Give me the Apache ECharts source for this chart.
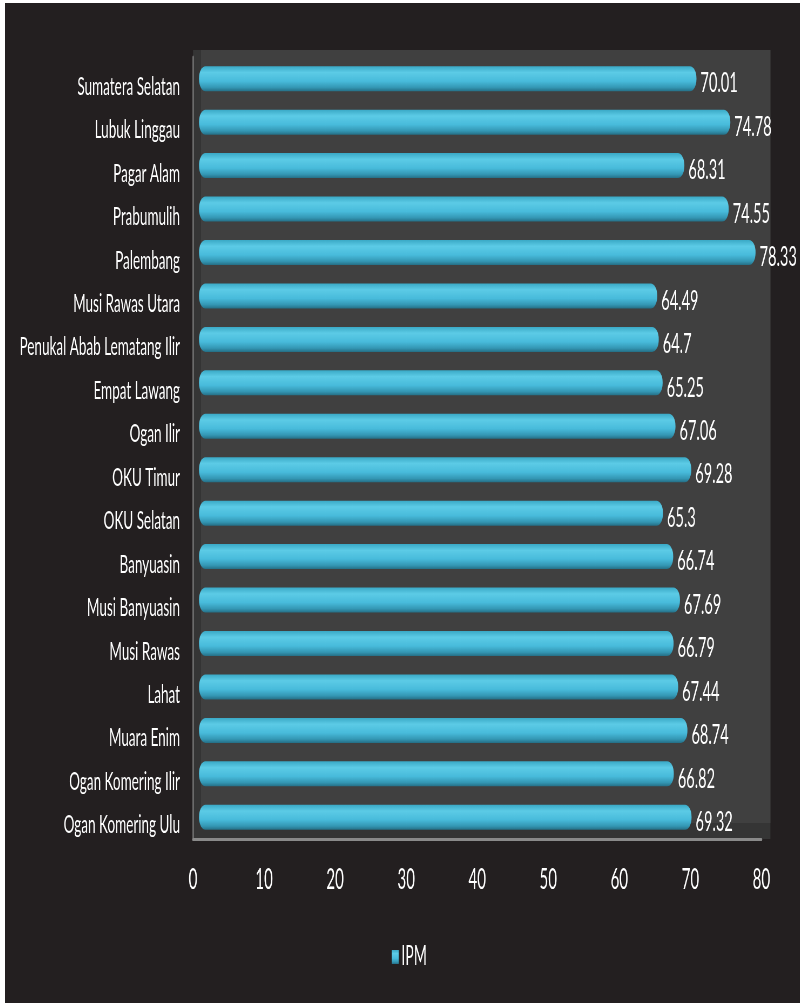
<!DOCTYPE html>
<html>
<head>
<meta charset="utf-8">
<script src="https://cdn.jsdelivr.net/npm/echarts@6/dist/echarts.min.js"></script>
<style>
html,body{margin:0;padding:0;background:#ffffff;overflow:hidden;}
#wrap{position:absolute;left:5px;top:3px;width:795px;height:1000px;overflow:hidden;background:#231f20;}
#c{position:absolute;left:0;top:0;width:1473px;height:1000px;transform:scaleX(0.54);transform-origin:0 0;}
</style>
</head>
<body>
<div id="wrap"><div id="c"></div></div>
<script>
var categories = ["Sumatera Selatan","Lubuk Linggau","Pagar Alam","Prabumulih","Palembang","Musi Rawas Utara","Penukal Abab Lematang Ilir","Empat Lawang","Ogan Ilir","OKU Timur","OKU Selatan","Banyuasin","Musi Banyuasin","Musi Rawas","Lahat","Muara Enim","Ogan Komering Ilir","Ogan Komering Ulu"];
var ipmValues = [70.01,74.78,68.31,74.55,78.33,64.49,64.7,65.25,67.06,69.28,65.3,66.74,67.69,66.79,67.44,68.74,66.82,69.32];
var xTicks = [0,10,20,30,40,50,60,70,80];
var seriesName = "IPM";

var S = 0.54; // horizontal squeeze applied by CSS
function hx(v){return v/S;}
var FONT = "Lato,'Open Sans',sans-serif";
var chart = echarts.init(document.getElementById('c'));
var barGrad = new echarts.graphic.LinearGradient(0,0,0,1,[
  {offset:0,color:'#3aa9c6'},
  {offset:0.25,color:'#5ccbe6'},
  {offset:0.6,color:'#48bbdb'},
  {offset:0.85,color:'#3497b4'},
  {offset:1,color:'#256f86'}
]);
chart.setOption({
  backgroundColor:'#231f20',
  animation:false,
  grid:[
    {left:hx(188),top:47,right:hx(30),bottom:164,show:true,backgroundColor:'#353535',borderWidth:0,outerBoundsMode:'none'},
    {left:hx(196),top:47,right:hx(30),bottom:180,show:true,backgroundColor:'#404040',borderWidth:0,outerBoundsMode:'none'},
    {left:hx(188),top:54,right:hx(39),bottom:164,outerBoundsMode:'none'},
    {left:hx(194),top:54,right:hx(33),bottom:164,outerBoundsMode:'none'}
  ],
  xAxis:[
    {gridIndex:0,type:'value',show:false},
    {gridIndex:1,type:'value',show:false},
    {gridIndex:2,type:'value',min:0,max:80,interval:10,
     axisLine:{show:true,lineStyle:{color:'#8a8a8a',width:3}},
     axisTick:{show:false},splitLine:{show:false},
     axisLabel:{color:'#ffffff',fontSize:28,fontFamily:FONT,margin:27,
       formatter:function(v){return xTicks.indexOf(v)>=0?String(v):'';}}},
    {gridIndex:3,type:'value',min:0,max:80,interval:10,show:false}
  ],
  yAxis:[
    {gridIndex:0,type:'value',show:false},
    {gridIndex:1,type:'value',show:false},
    {gridIndex:2,type:'category',data:categories,inverse:true,
     axisLine:{show:true,lineStyle:{color:'#6a6a6a',width:3}},
     axisTick:{show:false},
     axisLabel:{color:'#ffffff',fontSize:25,fontFamily:FONT,margin:hx(13),verticalAlign:'top',lineHeight:16}},
    {gridIndex:3,type:'category',data:categories,inverse:true,show:false}
  ],
  legend:{data:[seriesName],left:hx(384),top:936,itemWidth:hx(7),itemHeight:14,icon:'rect',
    textStyle:{color:'#ffffff',fontSize:26,fontFamily:FONT},itemGap:hx(4)},
  series:[{
    name:seriesName,type:'bar',xAxisIndex:3,yAxisIndex:3,data:ipmValues,
    barWidth:25,
    itemStyle:{color:barGrad,borderRadius:12},
    label:{show:true,position:'right',distance:hx(4),offset:[0,5],color:'#ffffff',fontSize:27,fontFamily:FONT,
      formatter:function(p){return String(p.value);}}
  }]
});
</script>
</body>
</html>
